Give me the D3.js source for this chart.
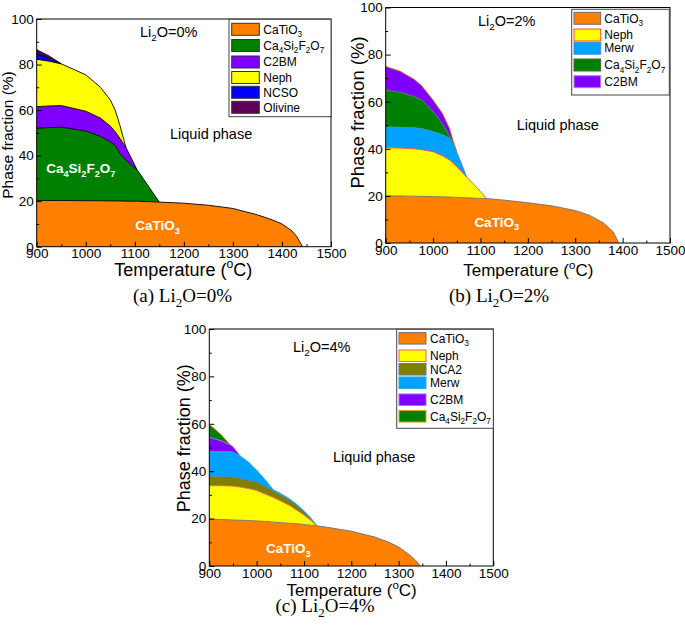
<!DOCTYPE html>
<html><head><meta charset="utf-8">
<script src="https://cdn.jsdelivr.net/npm/d3@7"></script>
<style>body{margin:0;background:#fff}svg{display:block}text{font-family:Arial,"Liberation Sans",sans-serif;fill:#000}</style>
</head><body><svg id="c" width="685" height="625"></svg>
<script>
// ---------- DATA ----------
const xTicks = [900,1000,1100,1200,1300,1400,1500];
const xMinor = [950,1050,1150,1250,1350,1450];
const yTicks = [0,20,40,60,80,100];
const yMinor = [10,30,50,70,90];

// (a) Li2O = 0%
const tempA    = [900,925,950,1000,1030,1050,1060,1070,1082,1095,1104,1125,1150,1200,1250,1300,1350,1380,1400,1420,1430,1442];
const caTiO3A  = [20.3,20.3,20.3,20.2,20.2,20.1,20.1,20.1,20.0,20.0,20.0,19.8,19.6,19.1,18.2,16.8,14.0,11.8,10.0,7.0,4.5,0];
const ca4A     = [31.7,32.0,32.2,30.6,28.3,25.9,24.4,20.9,18.0,15.5,14.0,7.6,0,0,0,0,0,0,0,0,0,0];
const c2bmA    = [9.5,9.5,9.5,8.7,8.0,7.0,6.0,6.5,5.5,2.5,0,0,0,0,0,0,0,0,0,0,0,0];
const nephA    = [20.8,19.7,18.3,16.0,13.5,11.5,9.5,5.5,0,0,0,0,0,0,0,0,0,0,0,0,0,0];
const ncsoA    = [2.5,1.3,0,0,0,0,0,0,0,0,0,0,0,0,0,0,0,0,0,0,0,0];
const olivineA = [1.7,1.0,0,0,0,0,0,0,0,0,0,0,0,0,0,0,0,0,0,0,0,0];
const phasesA  = ["CaTiO_3","Ca_4Si_2F_2O_7","C2BM","Neph","NCSO","Olivine"];

// (b) Li2O = 2%
const tempB    = [900,930,960,976,1000,1020,1035,1043,1050,1057,1071,1092,1113,1150,1200,1250,1300,1330,1360,1380,1392];
const caTiO3B  = [20.0,20.0,19.9,19.8,19.7,19.6,19.5,19.4,19.4,19.3,19.2,19.0,18.9,18.2,17.1,15.8,13.8,11.8,8.5,4.8,0];
const nephB    = [20.5,20.3,20.1,19.8,19.1,17.4,15.7,14.4,13.1,11.6,8.8,4.6,0,0,0,0,0,0,0,0,0];
const merwB    = [8.8,8.8,8.9,9.0,8.5,9.0,9.3,8.7,6.0,4.3,0,0,0,0,0,0,0,0,0,0,0];
const ca4B     = [15.7,14.9,13.3,12.1,8.5,4.5,0.8,0.2,0,0,0,0,0,0,0,0,0,0,0,0,0];
const c2bmB    = [10.0,9.0,7.3,6.1,4.9,4.5,3.2,0.3,0,0,0,0,0,0,0,0,0,0,0,0,0];
const phasesB  = ["CaTiO_3","Neph","Merw","Ca_4Si_2F_2O_7","C2BM"];

// (c) Li2O = 4%
const tempC    = [900,925,944,950,965,982,1000,1020,1035,1050,1070,1085,1100,1115,1127,1150,1200,1250,1280,1300,1320,1335,1346];
const caTiO3C  = [19.8,19.6,19.5,19.4,19.3,19.2,19.0,18.8,18.5,18.3,18.0,17.8,17.5,17.2,17.0,16.3,14.7,12.2,10.0,8.0,5.2,2.6,0];
const nephC    = [14.1,14.3,14.3,14.3,14.0,13.5,12.9,11.4,10.5,9.2,7.5,5.7,4.0,2.0,0,0,0,0,0,0,0,0,0];
const nca2C    = [4.1,3.9,3.9,3.9,3.7,3.6,3.5,3.2,2.8,2.7,2.3,2.0,1.3,0.6,0,0,0,0,0,0,0,0,0];
const merwC    = [10.2,10.4,10.5,10.4,9.5,7.7,5.1,2.6,0.4,0.5,0.5,0.5,0.5,0.4,0,0,0,0,0,0,0,0,0];
const c2bmC    = [6.1,4.6,3.0,2.3,0,0,0,0,0,0,0,0,0,0,0,0,0,0,0,0,0,0,0];
const ca4C     = [5.5,2.7,0,0,0,0,0,0,0,0,0,0,0,0,0,0,0,0,0,0,0,0,0];
const phasesC  = ["CaTiO_3","Neph","NCA2","Merw","C2BM","Ca_4Si_2F_2O_7"];

// ---------- STYLE ----------
const fill = {"CaTiO_3":"#ff8000","Ca_4Si_2F_2O_7":"#008000","C2BM":"#8000ff","Neph":"#ffff00",
  "NCSO":"#0000ff","Olivine":"#5c0058","Merw":"#00a2ff","NCA2":"#808000"};

const svg = d3.select("#c");

function rich(sel, str, size){
  const parts=[];
  for(let i=0;i<str.length;i++){
    const ch=str[i];
    if((ch==="_"||ch==="^")&&i+1<str.length){parts.push({t:str[i+1],k:ch});i++;}
    else if(parts.length&&parts[parts.length-1].k==="n"){parts[parts.length-1].t+=ch;}
    else parts.push({t:ch,k:"n"});
  }
  let shift=0;
  parts.forEach(p=>{
    const ts=sel.append("tspan").text(p.t);
    const target=p.k==="_"?0.28*size:(p.k==="^"?-0.42*size:0);
    if(target!==shift){ts.attr("dy",target-shift);shift=target;}
    if(p.k!=="n") ts.attr("font-size",0.68*size);
  });
  return sel;
}
function label(g,str,x,y,size,opts={}){
  const t=g.append("text").attr("x",x).attr("y",y).attr("font-size",size)
    .attr("text-anchor",opts.anchor||"start");
  if(opts.bold) t.attr("font-weight","bold");
  if(opts.fill) t.style("fill",opts.fill);
  if(opts.family) t.style("font-family",opts.family);
  if(opts.rotate) t.attr("transform",`rotate(-90,${x},${y})`);
  rich(t,str,size);
  return t;
}

function panel(cfg){
  const g=svg.append("g");
  const x=d3.scaleLinear().domain([900,1500]).range([cfg.L,cfg.R]);
  const y=d3.scaleLinear().domain([0,100]).range([cfg.B,cfg.T]);
  const rows=cfg.temps.map((t,i)=>{const r={T:t};cfg.keys.forEach((k,j)=>r[k]=cfg.values[j][i]);return r;});
  const layers=d3.stack().keys(cfg.keys)(rows);
  const defs=cfg.values.map(v=>(d,i)=>v[i]>0||(i>0&&v[i-1]>0)||(i<v.length-1&&v[i+1]>0));
  layers.forEach((layer,j)=>{
    const area=d3.area().defined(defs[j]).x(d=>x(d.data.T)).y0(d=>y(d[0])).y1(d=>y(d[1]));
    g.append("path").attr("d",area(layer)).attr("fill",fill[cfg.keys[j]]);
  });
  layers.forEach((layer,j)=>{
    const line=d3.line().defined(defs[j]).x(d=>x(d.data.T)).y(d=>y(d[1]));
    g.append("path").attr("d",line(layer)).attr("fill","none")
      .attr("stroke",cfg.strokes[j]).attr("stroke-width",0.9);
  });
  // axes
  g.append("g").attr("transform",`translate(0,${cfg.B})`)
    .call(d3.axisBottom(x).tickValues(xTicks).tickSizeInner(-5).tickSizeOuter(0).tickPadding(2).tickFormat(d3.format("d")));
  g.append("g").attr("transform",`translate(0,${cfg.B})`)
    .call(d3.axisBottom(x).tickValues(xMinor).tickSizeInner(-2.5).tickSizeOuter(0).tickFormat(""));
  g.append("g").attr("transform",`translate(${cfg.L},0)`)
    .call(d3.axisLeft(y).tickValues(yTicks).tickSizeInner(-5).tickSizeOuter(0).tickPadding(3));
  g.append("g").attr("transform",`translate(${cfg.L},0)`)
    .call(d3.axisLeft(y).tickValues(yMinor).tickSizeInner(-2.5).tickSizeOuter(0).tickFormat(""));
  g.selectAll(".domain").remove();
  g.selectAll(".tick line").attr("stroke","#000");
  g.selectAll(".tick text").attr("font-size",13.5).style("font-family","Arial,'Liberation Sans',sans-serif");
  g.append("rect").attr("x",cfg.L).attr("y",cfg.T).attr("width",cfg.R-cfg.L).attr("height",cfg.B-cfg.T)
    .attr("fill","none").attr("stroke","#000").attr("stroke-width",1);
  // legend
  const lg=cfg.leg;
  g.append("rect").attr("x",lg.x).attr("y",lg.y).attr("width",lg.w).attr("height",lg.h)
    .attr("fill","#fff").attr("stroke","#444").attr("stroke-width",1);
  cfg.keys.forEach((k,j)=>{
    const cy=lg.rows[j];
    g.append("rect").attr("x",lg.sx).attr("y",cy-lg.sh/2).attr("width",lg.sw).attr("height",lg.sh)
      .attr("fill",fill[k]).attr("stroke",cfg.legStroke[j]).attr("stroke-width",1);
    label(g,k,lg.tx,cy+4.2,12);
  });
  // texts
  label(g,cfg.li,cfg.liPos[0],cfg.liPos[1],14.5);
  label(g,"Liquid phase",cfg.liqPos[0],cfg.liqPos[1],14.5);
  cfg.inner.forEach(t=>label(g,t.s,t.x,t.y,13.5,{anchor:"middle",bold:true,fill:"#fff"}));
  label(g,"Temperature (^oC)",cfg.xt[0],cfg.xt[1],cfg.xt[2],{anchor:"middle"});
  label(g,"Phase fraction (%)",cfg.yt[0],cfg.yt[1],cfg.yt[2],{anchor:"middle",rotate:true});
  label(g,cfg.cap,cfg.capPos[0],cfg.capPos[1],19,{anchor:"middle",family:"'Liberation Serif','Times New Roman',serif"});
}

panel({
  L:36.7,R:331,T:19,B:246.7,
  temps:tempA, keys:phasesA, values:[caTiO3A,ca4A,c2bmA,nephA,ncsoA,olivineA],
  strokes:["#000","#000","#000","#000","#000","#000"],
  legStroke:["#333","#333","#333","#333","#333","#333"],
  leg:{x:229,y:19.3,w:102,h:97.4,sx:231.7,sw:27.6,sh:12,tx:263.3,rows:[29.3,45.5,62,77.5,92.3,107.3]},
  li:"Li_2O=0%", liPos:[140,36.7], liqPos:[170,139.3],
  inner:[{s:"CaTiO_3",x:157.5,y:230},{s:"Ca_4Si_2F_2O_7",x:80.8,y:173.3}],
  xt:[183.3,276,18], yt:[12.8,135,15.5],
  cap:"(a) Li_2O=0%", capPos:[182.5,302]
});
panel({
  L:385.7,R:670,T:7.5,B:243,
  temps:tempB, keys:phasesB, values:[caTiO3B,nephB,merwB,ca4B,c2bmB],
  strokes:["#707070","#ff4a3a","#3a8fd8","#3c8f3c","#d07a30"],
  legStroke:["#707070","#ff4a3a","#3a8fd8","#3c6f3c","#b080ff"],
  leg:{x:571.7,y:9.3,w:97.6,h:85.7,sx:574,sw:26.7,sh:12,tx:604.3,rows:[18.3,35,48.2,65,81.7]},
  li:"Li_2O=2%", liPos:[478,26], liqPos:[516.7,130],
  inner:[{s:"CaTiO_3",x:496.7,y:226.7}],
  xt:[528.3,276,17], yt:[364,112.5,18.5],
  cap:"(b) Li_2O=2%", capPos:[499,302]
});
panel({
  L:209.3,R:493.3,T:329,B:566,
  temps:tempC, keys:phasesC, values:[caTiO3C,nephC,nca2C,merwC,c2bmC,ca4C],
  strokes:["#707070","#ff5a5a","#4f7fbf","#30b0c0","#a070ff","#e0a020"],
  legStroke:["#707070","#ff5a5a","#4f7fbf","#30b0c0","#a070ff","#e0a020"],
  leg:{x:396.7,y:329.3,w:96.6,h:99,sx:399,sw:27,sh:11.5,tx:430,rows:[338.3,355.7,369.3,382.7,399.7,416.3]},
  li:"Li_2O=4%", liPos:[293,351.7], liqPos:[333,461.7],
  inner:[{s:"CaTiO_3",x:288.3,y:553.3}],
  xt:[351.7,596,17], yt:[189.6,438.3,18],
  cap:"(c) Li_2O=4%", capPos:[325,612]
});
</script></body></html>
